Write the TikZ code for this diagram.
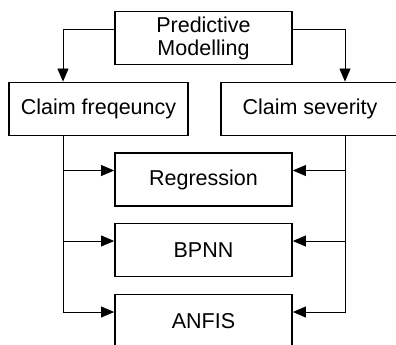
\documentclass[tikz,border=0pt]{standalone}
\usepackage{fontspec}
\setmainfont{Liberation Sans}
\usetikzlibrary{arrows.meta}

\begin{document}
\begin{tikzpicture}[x=1pt,y=-1pt,
	box/.style={draw,line width=1.8pt,minimum width=177pt,minimum height=53pt,inner sep=0pt,align=center,font=\fontsize{21.5}{23}\selectfont},
	link/.style={line width=0.8pt},
	arr/.style={link,-{Triangle[length=13pt,width=11pt]}}]
	\useasboundingbox (0,0) rectangle (396,345);
	\coordinate (lx) at (63,0);
	\coordinate (rx) at (345,0);
	% boxes
	\node[box] (pm) at (203.5,38) {Predictive\\Modelling};
	\node[box,minimum width=179pt] (cf) at (98.5,109) {Claim freqeuncy};
	\node[box,minimum width=178pt] (cs) at (310,109) {Claim severity};
	\node[box] (reg) at (203.5,179.5) {Regression};
	\node[box] (bp) at (203.5,250) {BPNN};
	\node[box] (an) at (203.5,321) {ANFIS};
	% connectors
	\draw[arr] ([yshift=9pt]pm.west) -| (cf.north -| lx);
	\draw[arr] ([yshift=9pt]pm.east) -| (cs.north -| rx);
	\foreach \b in {reg,bp,an}{
		\draw[arr] (cf.south -| lx) |- ([yshift=9pt]\b.west);
		\draw[arr] (cs.south -| rx) |- ([yshift=9pt]\b.east);
	}
\end{tikzpicture}
\end{document}
